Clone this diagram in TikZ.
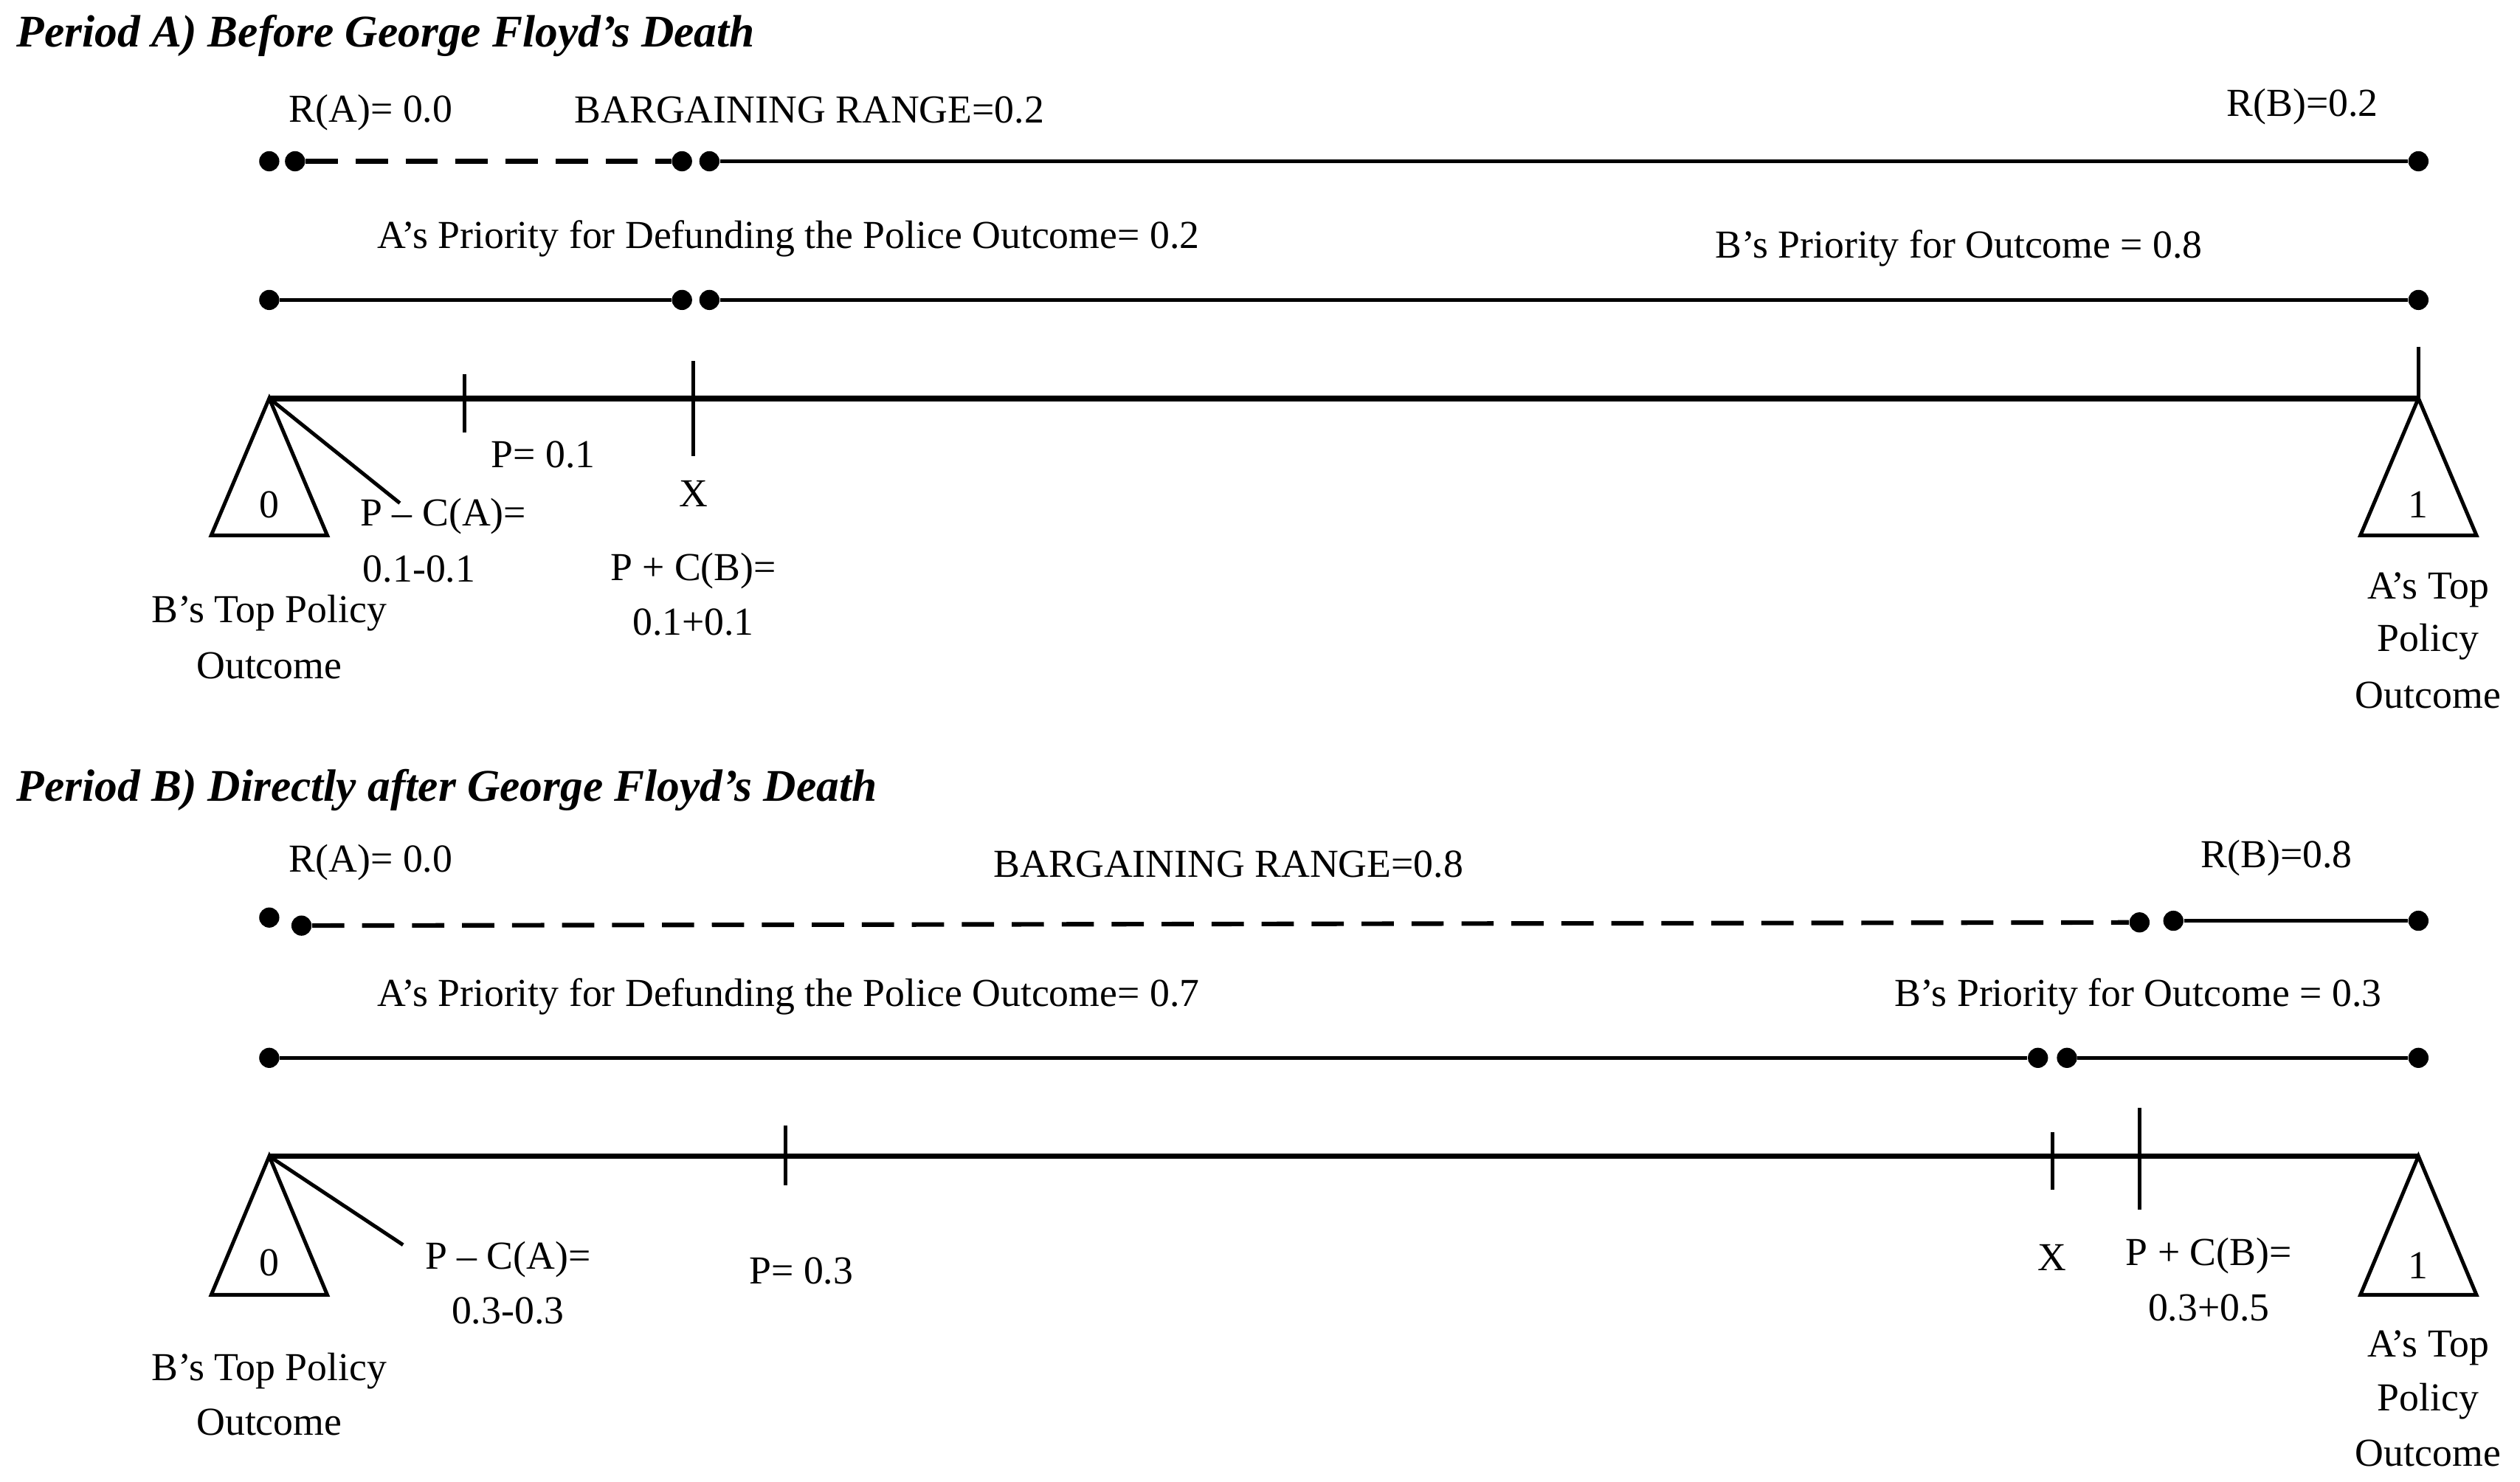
\documentclass[tikz,border=0pt]{standalone}
\usepackage{fontspec}
\setmainfont{Liberation Serif}
\begin{document}
\begin{tikzpicture}[x=0.02cm,y=-0.02cm,
  lbl/.style={font=\fontsize{14}{16}\selectfont,inner sep=0pt},
  ttl/.style={font=\fontsize{16}{18}\selectfont\bfseries\itshape,anchor=west,inner sep=0pt},
  ln/.style={line width=1.3pt},
  dsh/.style={line width=1.6pt,dash pattern=on 0.4cm off 0.22cm},
  ax/.style={line width=2pt},
  tk/.style={line width=1.3pt},
  dt/.style={circle,fill=black,inner sep=0pt,minimum size=0.25cm}]
\useasboundingbox (0,0) rectangle (1563,919);
% ---------- Period A
\node[ttl] (tA) at (10,22) {Period A) Before George Floyd’s Death};
\node[dt] (a1) at (167,100) {}; \node[dt] (a2) at (183,100) {};
\node[dt] (a3) at (423,100) {}; \node[dt] (a4) at (440,100) {};
\node[dt] (a5) at (1500,100) {};
\draw[dsh] (a2) -- (a3); \draw[ln] (a4) -- (a5);
\node[lbl] (la1) at (230,70) {R(A)= 0.0};
\node[lbl] (la2) at (502,68) {BARGAINING RANGE=0.2};
\node[lbl] (la3) at (1428,66) {R(B)=0.2};
\node[dt] (b1) at (167,186) {}; \node[dt] (b2) at (423,186) {};
\node[dt] (b3) at (440,186) {}; \node[dt] (b4) at (1500,186) {};
\draw[ln] (b1) -- (b2); \draw[ln] (b3) -- (b4);
\node[lbl] (lb1) at (489,148) {A’s Priority for Defunding the Police Outcome= 0.2};
\node[lbl] (lb2) at (1215,154) {B’s Priority for Outcome = 0.8};
\coordinate (c0) at (167,247); \coordinate (c1) at (1500,247);
\draw[ax] (c0) -- (c1);
\coordinate (t1a) at (288,232); \coordinate (t1b) at (288,268);
\coordinate (t2a) at (430,224); \coordinate (t2b) at (430,283);
\coordinate (t3a) at (1500,215);
\draw[tk] (t1a) -- (t1b); \draw[tk] (t2a) -- (t2b); \draw[tk] (t3a) -- (c1);
\draw[ln] (c0) -- (131,332) -- (203,332) -- cycle;
\draw[ln] (c1) -- (1464,332) -- (1536,332) -- cycle;
\coordinate (pa) at (248,312); \draw[ln] (c0) -- (pa);
\node[lbl] (z1) at (167,313) {0}; \node[lbl] (o1) at (1500,313) {1};
\node[lbl] (m1) at (337,282) {P= 0.1};
\node[lbl] (m2) at (430,306) {X};
\node[lbl] (m3) at (275,320) {P – C(A)=};
\node[lbl] (m4) at (260,353) {0.1-0.1};
\node[lbl] (m5) at (430,354) {P + C(B)=};
\node[lbl] (m6) at (430,386) {0.1+0.1};
\node[lbl] (m7) at (167,380) {B’s Top Policy};
\node[lbl] (m8) at (167,413) {Outcome};
\node[lbl] (m9) at (1506,366) {A’s Top};
\node[lbl] (m10) at (1506,398) {Policy};
\node[lbl] (m11) at (1506,431) {Outcome};
% ---------- Period B
\node[ttl] (tB) at (10,490) {Period B) Directly after George Floyd’s Death};
\node[dt] (d1) at (167,569) {}; \node[dt] (d2) at (187,574) {};
\node[dt] (d3) at (1327,572) {}; \node[dt] (d4) at (1348,571) {};
\node[dt] (d5) at (1500,571) {};
\draw[dsh] (d2) -- (d3); \draw[ln] (d4) -- (d5);
\node[lbl] (ld1) at (230,535) {R(A)= 0.0};
\node[lbl] (ld2) at (762,536) {BARGAINING RANGE=0.8};
\node[lbl] (ld3) at (1412,532) {R(B)=0.8};
\node[dt] (e1) at (167,656) {}; \node[dt] (e2) at (1264,656) {};
\node[dt] (e3) at (1282,656) {}; \node[dt] (e4) at (1500,656) {};
\draw[ln] (e1) -- (e2); \draw[ln] (e3) -- (e4);
\node[lbl] (le1) at (489,618) {A’s Priority for Defunding the Police Outcome= 0.7};
\node[lbl] (le2) at (1326,618) {B’s Priority for Outcome = 0.3};
\coordinate (f0) at (167,717); \coordinate (f1) at (1500,717);
\draw[ax] (f0) -- (f1);
\coordinate (u1a) at (487,698); \coordinate (u1b) at (487,735);
\coordinate (u2a) at (1273,702); \coordinate (u2b) at (1273,738);
\coordinate (u3a) at (1327,687); \coordinate (u3b) at (1327,750);
\draw[tk] (u1a) -- (u1b); \draw[tk] (u2a) -- (u2b); \draw[tk] (u3a) -- (u3b);
\draw[ln] (f0) -- (131,803) -- (203,803) -- cycle;
\draw[ln] (f1) -- (1464,803) -- (1536,803) -- cycle;
\coordinate (pb) at (250,772); \draw[ln] (f0) -- (pb);
\node[lbl] (z2) at (167,783) {0}; \node[lbl] (o2) at (1500,785) {1};
\node[lbl] (n1) at (315,781) {P – C(A)=};
\node[lbl] (n2) at (315,813) {0.3-0.3};
\node[lbl] (n3) at (497,788) {P= 0.3};
\node[lbl] (n4) at (1273,780) {X};
\node[lbl] (n5) at (1370,779) {P + C(B)=};
\node[lbl] (n6) at (1370,811) {0.3+0.5};
\node[lbl] (n7) at (167,850) {B’s Top Policy};
\node[lbl] (n8) at (167,882) {Outcome};
\node[lbl] (n9) at (1506,836) {A’s Top};
\node[lbl] (n10) at (1506,869) {Policy};
\node[lbl] (n11) at (1506,901) {Outcome};
\end{tikzpicture}
\end{document}
